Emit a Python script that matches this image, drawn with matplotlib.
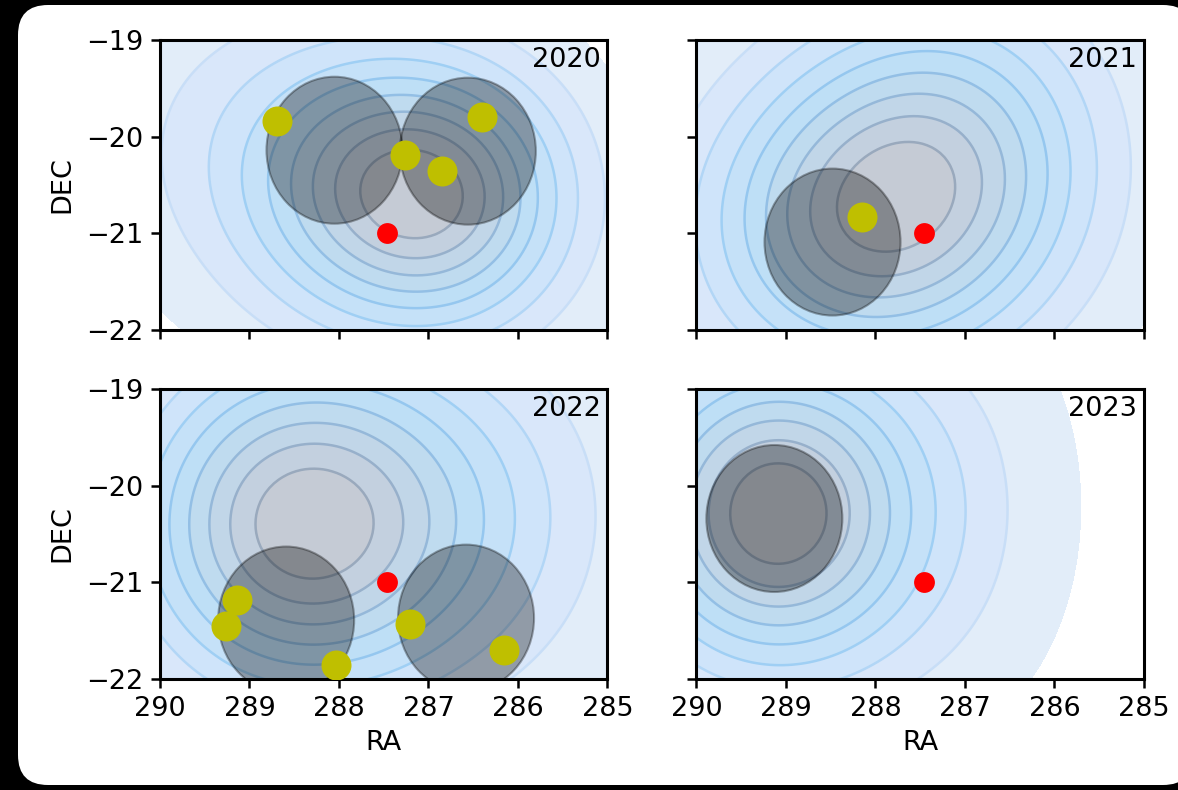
import numpy as np
import matplotlib
matplotlib.use("Agg")
import matplotlib.pyplot as plt
from matplotlib.patches import Circle, FancyBboxPatch
from matplotlib.transforms import IdentityTransform

# ---- data ----
years = ["2020", "2021", "2022", "2023"]

# density components per year: centre RA, centre DEC, sigma RA, sigma DEC, weight
comp_ra = {"2020": [286.75, 287.75, 289.0], "2021": [287.15, 288.4],
           "2022": [288.45, 286.5], "2023": [289.13, 287.2]}
comp_dec = {"2020": [-20.65, -20.55, -20.0], "2021": [-20.25, -20.95],
            "2022": [-20.4, -20.3], "2023": [-20.29, -20.2]}
comp_sra = {"2020": [0.95, 1.0, 1.3], "2021": [1.2, 1.2],
            "2022": [1.2, 1.2], "2023": [1.05, 1.0]}
comp_sdec = {"2020": [0.9, 0.95, 1.1], "2021": [1.2, 1.1],
             "2022": [1.15, 1.3], "2023": [1.05, 1.5]}
comp_w = {"2020": [1.0, 0.8, 0.35], "2021": [1.0, 0.9],
          "2022": [1.0, 0.3], "2023": [1.0, 0.15]}

# grey search circles
circ_ra = {"2020": [288.05, 286.56], "2021": [288.48],
           "2022": [288.59, 286.58], "2023": [289.13]}
circ_dec = {"2020": [-20.14, -20.15], "2021": [-21.09],
            "2022": [-21.39, -21.37], "2023": [-20.34]}
circ_r = 0.76

# yellow detections
det_ra = {"2020": [288.69, 286.40, 287.26, 286.85], "2021": [288.15],
          "2022": [289.14, 289.26, 288.03, 287.21, 286.16], "2023": []}
det_dec = {"2020": [-19.84, -19.80, -20.19, -20.36], "2021": [-20.83],
           "2022": [-21.18, -21.45, -21.86, -21.43, -21.70], "2023": []}

# red reference point
ref_ra, ref_dec = 287.46, -21.0

fill_colors = ["#e2edf9", "#d9e7fa", "#cfe4fa", "#c5e1f8", "#bedff6",
               "#bfdbef", "#c1d6e8", "#c3d0df", "#c5cbd5"]
line_colors = ["#c8def7", "#b2d6f6", "#9fcff4", "#95c7ef", "#93bfe5",
               "#95b8d9", "#97b0cb", "#99a9bd"]

FS = 19.5
plt.rcParams.update({
    "font.size": FS,
    "axes.linewidth": 2.2,
    "xtick.major.size": 6.5, "ytick.major.size": 6.5,
    "xtick.major.width": 1.8, "ytick.major.width": 1.8,
    "xtick.major.pad": 5.5, "ytick.major.pad": 5.5,
})

fig, axes = plt.subplots(2, 2, sharex=True, sharey=True, figsize=(11.78, 7.9), dpi=100)
fig.patch.set_facecolor("black")
fig.subplots_adjust(left=0.1358, right=0.9711, top=0.9494, bottom=0.1405,
                    wspace=0.199, hspace=0.203)
fig.patches.append(FancyBboxPatch((18, 5), 1175, 780,
                                  boxstyle="round,pad=0,rounding_size=30",
                                  transform=IdentityTransform(), facecolor="white",
                                  edgecolor="none", zorder=-10))

gx = np.linspace(280, 296, 320)
gy = np.linspace(-27, -13, 300)
GX, GY = np.meshgrid(gx, gy)


def iso_levels(dens, props):
    vals = np.sort(dens.ravel())[::-1]
    cum = np.cumsum(vals) / vals.sum()
    idx = np.searchsorted(cum, 1 - props)
    return np.take(vals, idx, mode="clip")


for ax, yr in zip(axes.flat, years):
    dens = np.zeros_like(GX)
    for ra, dec, sra, sdec, w in zip(comp_ra[yr], comp_dec[yr], comp_sra[yr],
                                     comp_sdec[yr], comp_w[yr]):
        dens += w / (sra * sdec) * np.exp(-0.5 * (((GX - ra) / sra) ** 2 + ((GY - dec) / sdec) ** 2))
    lev = iso_levels(dens, np.linspace(0.05, 1, 10))
    lev[-1] = dens.max() * 1.01
    ax.contourf(GX, GY, dens, levels=lev, colors=fill_colors, zorder=1)
    ax.contour(GX, GY, dens, levels=lev[1:-1], colors=line_colors,
               linewidths=1.8, zorder=2)

    for cx, cy in zip(circ_ra[yr], circ_dec[yr]):
        ax.add_patch(Circle((cx, cy), circ_r, facecolor="black", edgecolor="black",
                            alpha=0.33, linewidth=1.5, zorder=3))
    ax.plot(det_ra[yr], det_dec[yr], "o", color="y", markersize=21.6,
            markeredgewidth=0, zorder=4)
    ax.plot([ref_ra], [ref_dec], "o", color="r", markersize=15,
            markeredgewidth=0, zorder=5)

    ax.text(0.985, 0.975, yr, transform=ax.transAxes, ha="right", va="top",
            fontsize=FS, zorder=6)

ax0 = axes[0, 0]
ax0.set_xlim(290, 285)
ax0.set_ylim(-22, -19)
ax0.set_xticks([290, 289, 288, 287, 286, 285])
ax0.set_yticks([-22, -21, -20, -19])

for ax in axes[:, 0]:
    ax.set_ylabel("DEC", labelpad=8)
for ax in axes[1, :]:
    ax.set_xlabel("RA", labelpad=6)

fig.savefig("out.png", dpi=100, facecolor=fig.get_facecolor())
